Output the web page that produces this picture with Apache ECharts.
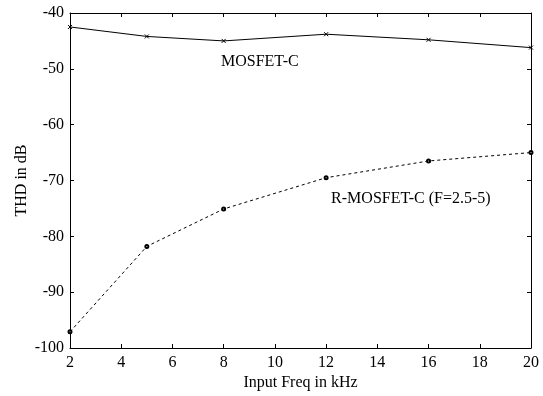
<!DOCTYPE html>
<html>
<head>
<meta charset="utf-8">
<script src="https://cdn.jsdelivr.net/npm/echarts@6/dist/echarts.min.js"></script>
<style>
	html, body { margin: 0; padding: 0; background: #fff; }
	#chart { width: 543px; height: 396px; }
</style>
</head>
<body>
<div id="chart"></div>
<script>
	// data
	const freqs = [2, 5, 8, 12, 16, 20];
	const mosfetC = [-42.5, -44.2, -45.0, -43.8, -44.8, -46.2];
	const rMosfetC = [-97.1, -81.8, -75.1, -69.5, -66.5, -65.0];
	const xTicks = [2, 4, 6, 8, 10, 12, 14, 16, 18, 20];
	const yTicks = [-100, -90, -80, -70, -60, -50, -40];

	const font = "'Liberation Serif', 'DejaVu Serif', serif";
	const crossPath = "path://M0,0L10,10M10,0L0,10";

	const chart = echarts.init(document.getElementById("chart"));

	const baseAxisLine = { show: true, lineStyle: { color: "#000", width: 1 } };
	const baseTick = { show: true, inside: true, length: 4, lineStyle: { color: "#000" } };

	const option = {
		animation: false,
		backgroundColor: "#fff",
		grid: { left: 70, right: 12, top: 13, bottom: 48 },
		xAxis: [
			{
				type: "value",
				min: xTicks[0],
				max: xTicks[xTicks.length - 1],
				interval: 2,
				name: "Input Freq in kHz",
				nameLocation: "middle",
				nameGap: 27,
				nameMoveOverlap: false,
				nameTextStyle: { fontFamily: font, fontSize: 16, color: "#000" },
				axisLine: baseAxisLine,
				axisTick: baseTick,
				axisLabel: { fontFamily: font, fontSize: 16, color: "#000", margin: 7 },
				splitLine: { show: false }
			},
			{
				type: "value",
				position: "top",
				min: xTicks[0],
				max: xTicks[xTicks.length - 1],
				interval: 2,
				axisLine: baseAxisLine,
				axisTick: baseTick,
				axisLabel: { show: false },
				splitLine: { show: false }
			}
		],
		yAxis: [
			{
				type: "value",
				min: yTicks[0],
				max: yTicks[yTicks.length - 1],
				interval: 10,
				name: "THD in dB",
				nameLocation: "middle",
				nameGap: 40,
				nameMoveOverlap: false,
				nameTextStyle: { fontFamily: font, fontSize: 16, color: "#000" },
				axisLine: baseAxisLine,
				axisTick: baseTick,
				axisLabel: { fontFamily: font, fontSize: 16, color: "#000", margin: 6 },
				splitLine: { show: false }
			},
			{
				type: "value",
				position: "right",
				min: yTicks[0],
				max: yTicks[yTicks.length - 1],
				interval: 10,
				axisLine: baseAxisLine,
				axisTick: baseTick,
				axisLabel: { show: false },
				splitLine: { show: false }
			}
		],
		series: [
			{
				name: "MOSFET-C",
				type: "line",
				data: freqs.map((f, i) => [f, mosfetC[i]]),
				symbol: crossPath,
				symbolSize: 4,
				itemStyle: { color: "#000", borderColor: "#000", borderWidth: 1 },
				lineStyle: { color: "#000", width: 1 },
				markPoint: {
					symbol: "rect",
					symbolSize: 0,
					data: [{ coord: [7.7, -48.8], value: "MOSFET-C" }],
					label: {
						show: true,
						position: "right",
						formatter: "MOSFET-C",
						fontFamily: font,
						fontSize: 16,
						color: "#000"
					}
				}
			},
			{
				name: "R-MOSFET-C (F=2.5-5)",
				type: "line",
				data: freqs.map((f, i) => [f, rMosfetC[i]]),
				symbol: "emptyCircle",
				symbolSize: 3,
				itemStyle: { color: "#000", borderColor: "#000", borderWidth: 1 },
				lineStyle: { color: "#000", width: 1, type: [3, 3] },
				markPoint: {
					symbol: "rect",
					symbolSize: 0,
					data: [{ coord: [12.0, -73.3], value: "R" }],
					label: {
						show: true,
						position: "right",
						formatter: "R-MOSFET-C (F=2.5-5)",
						fontFamily: font,
						fontSize: 16,
						color: "#000"
					}
				}
			}
		]
	};

	chart.setOption(option);
</script>
</body>
</html>
